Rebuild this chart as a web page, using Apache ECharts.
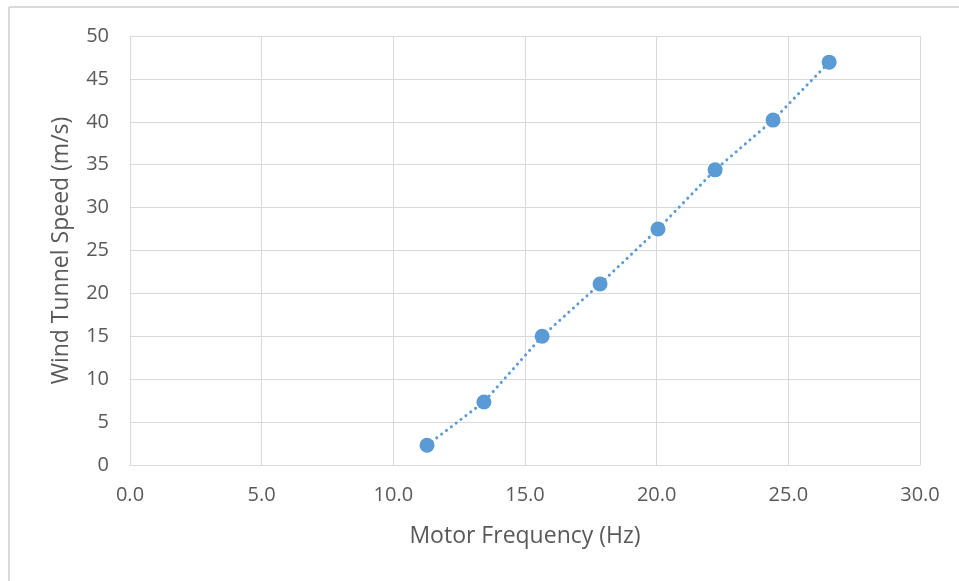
<!DOCTYPE html>
<html>
<head>
<meta charset="utf-8">
<script src="https://cdn.jsdelivr.net/npm/echarts@6/dist/echarts.min.js"></script>
<style>
html,body{margin:0;padding:0;background:#fff;}
#c{width:959px;height:581px;}
</style>
</head>
<body>
<div id="c"></div>
<script>
const motorFrequency = [11.28, 13.44, 15.65, 17.85, 20.05, 22.22, 24.42, 26.55];
const windSpeed = [2.3, 7.35, 15.0, 21.1, 27.5, 34.4, 40.2, 46.95];
const xTitle = 'Motor Frequency (Hz)';
const yTitle = 'Wind Tunnel Speed (m/s)';

const pts = motorFrequency.map((x, i) => [x, windSpeed[i]]);
const FONT = '"Open Sans", sans-serif';
const TXT = '#595959';
const GRID = '#d9d9d9';

const chart = echarts.init(document.getElementById('c'), null, {renderer: 'canvas'});
chart.setOption({
  backgroundColor: '#fff',
  animation: false,
  graphic: [
    {type: 'line', shape: {x1: 9, y1: 7, x2: 959, y2: 7}, style: {stroke: GRID, lineWidth: 2}},
    {type: 'line', shape: {x1: 9, y1: 7, x2: 9, y2: 581}, style: {stroke: GRID, lineWidth: 2}}
  ],
  grid: {left: 130, right: 39, top: 36, bottom: 116, containLabel: false},
  xAxis: {
    type: 'value', min: 0, max: 30, interval: 5,
    name: xTitle, nameLocation: 'middle', nameGap: 60,
    nameTextStyle: {color: TXT, fontSize: 23, fontFamily: FONT},
    axisLine: {show: true, lineStyle: {color: GRID, width: 1}},
    axisTick: {show: false},
    axisLabel: {color: TXT, fontSize: 20, fontFamily: FONT, margin: 20, formatter: v => v.toFixed(1)},
    splitLine: {show: true, lineStyle: {color: GRID, width: 1}}
  },
  yAxis: {
    type: 'value', min: 0, max: 50, interval: 5,
    name: yTitle, nameLocation: 'middle', nameGap: 57, nameRotate: 90,
    nameTextStyle: {color: TXT, fontSize: 23, fontFamily: FONT},
    axisLine: {show: true, lineStyle: {color: GRID, width: 1}},
    axisTick: {show: false},
    axisLabel: {color: TXT, fontSize: 20, fontFamily: FONT, margin: 21},
    splitLine: {show: true, lineStyle: {color: GRID, width: 1}}
  },
  series: [
    {
      type: 'line', data: pts, symbol: 'none', silent: true,
      lineStyle: {color: '#5b9bd5', width: 3, type: [0.1, 6], cap: 'round'},
      z: 1
    },
    {
      type: 'scatter', data: pts, symbol: 'circle', symbolSize: 15,
      itemStyle: {color: '#5b9bd5', opacity: 1},
      z: 2
    }
  ]
});
</script>
</body>
</html>
